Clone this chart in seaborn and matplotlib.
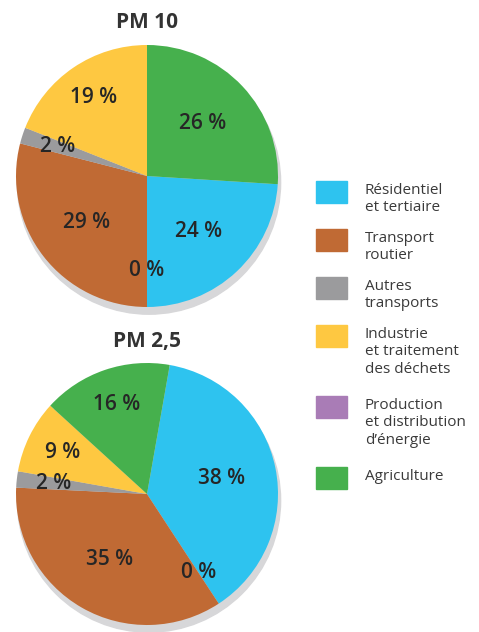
import matplotlib
matplotlib.use('Agg')
import matplotlib.pyplot as plt
import seaborn as sns
import numpy as np
from matplotlib.patches import Circle, Rectangle

sns.set_theme(style='white')
plt.rcParams['font.family'] = ['Open Sans', 'DejaVu Sans']

# data (legend order)
categories = ['Résidentiel\net tertiaire', 'Transport\nroutier', 'Autres\ntransports',
              'Industrie\net traitement\ndes déchets', 'Production\net distribution\nd’énergie',
              'Agriculture']
pm10 = [24, 29, 2, 19, 0, 26]
pm25 = [38, 35, 2, 9, 0, 16]
titles = ['PM 10', 'PM 2,5']
# clockwise order of the wedges in both pies
pie_order = [0, 4, 1, 2, 3, 5]

colors = sns.color_palette(['#2ec3ef', '#c06a34', '#9b9b9d', '#fec841', '#a97cb6', '#46b04d'])

W, H = 479, 632
fig = plt.figure(figsize=(W / 100, H / 100), dpi=100)
fig.patch.set_facecolor('white')


def px_box(cx, cy, half):
    return [(cx - half) / W, (H - cy - half) / H, 2 * half / W, 2 * half / H]


def draw_pie(cy, values, title, start):
    lim = 1.12
    r_px = 131
    ax = fig.add_axes(px_box(147, cy, lim * r_px))
    ax.axis('off')
    # soft drop shadow under the pie
    ax.add_patch(Circle((0.015, -0.05), 1.005, color='#d7d7d9', zorder=0))
    vals = [values[i] for i in pie_order]
    cols = [colors[i] for i in pie_order]
    wedges, _ = ax.pie(vals, colors=cols, startangle=start, counterclock=False,
                       radius=1, wedgeprops=dict(linewidth=0))
    ax.set_xlim(-lim, lim)
    ax.set_ylim(-lim, lim)
    for w, v in zip(wedges, vals):
        ang = np.deg2rad((w.theta1 + w.theta2) / 2)
        r = 0.58 if v >= 20 else 0.72
        ax.text(r * np.cos(ang), r * np.sin(ang), f'{v} %', ha='center', va='center',
                fontsize=15, fontweight='semibold', color='#262626', zorder=5)
    fig.text(147 / W, 1 - (cy - 153) / H, title, ha='center', va='center',
             fontsize=15, fontweight='bold', color='#333333')


draw_pie(176, pm10, titles[0], -3.6)
draw_pie(494, pm25, titles[1], 80)

# legend, drawn by hand so the swatch lines up with the first text line
y = 190
line_h = 17.5
for cat, col in zip(categories, colors):
    n = cat.count('\n') + 1
    fig.patches.append(Rectangle((316 / W, 1 - (y + 13) / H), 31 / W, 22 / H,
                                 transform=fig.transFigure, color=col, figure=fig))
    fig.text(365 / W, 1 - (y - 7) / H, cat, ha='left', va='top', fontsize=11,
             color='#3a3a3a', linespacing=1.22)
    y += n * line_h + (13 if n < 3 else 18.5)

fig.savefig('out.png', dpi=100, facecolor='white')
